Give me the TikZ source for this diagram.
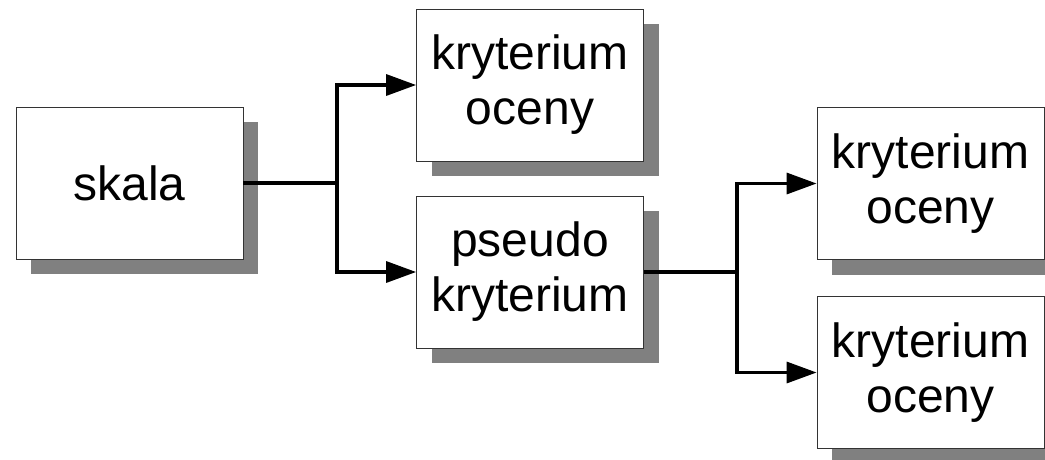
\documentclass[tikz,border=0pt]{standalone}
\usepackage{fontspec}
\setmainfont{Liberation Sans}
\usepackage{tikz}
\usetikzlibrary{shadows}
\usetikzlibrary{arrows.meta, positioning}

\tikzset{
	block/.style={draw=black!80, line width=0.8pt, fill=white, align=center,
		minimum width=227pt, minimum height=152pt, inner sep=0pt,
		font=\fontsize{48}{55}\selectfont,
		drop shadow={shadow xshift=15pt, shadow yshift=-15pt, fill=gray, opacity=1}},
	link/.style={line width=3.3pt},
	arrow/.style={line width=3.3pt, -{Triangle[length=30pt,width=21pt]}}
}

\begin{document}
\begin{tikzpicture}[x=1pt, y=-1pt]
		% Fix the page to the picture size
		\useasboundingbox (0,0) rectangle (1045,459);

		% Draw the boxes
		\node[block] (skala) at (129.5,183) {skala};
		\node[block] (crit1) at (530,85) {kryterium\\oceny};
		\node[block] (pseudo) at (530,272) {pseudo\\kryterium};
		\node[block] (crit2) at (930.5,183.5) {kryterium\\oceny};
		\node[block] (crit3) at (930.5,372.5) {kryterium\\oceny};

		% Branch points
		\coordinate (split1) at (337,183);
		\coordinate (split2) at (737,272);

		% Connect skala to its two children
		\draw[link] (skala.east) -- (split1);
		\draw[arrow] (split1) |- (crit1);
		\draw[arrow] (split1) |- (pseudo);

		% Connect pseudo kryterium to its two children
		\draw[link] (pseudo.east) -- (split2);
		\draw[arrow] (split2) |- (crit2);
		\draw[arrow] (split2) |- (crit3);

	\end{tikzpicture}
\end{document}
